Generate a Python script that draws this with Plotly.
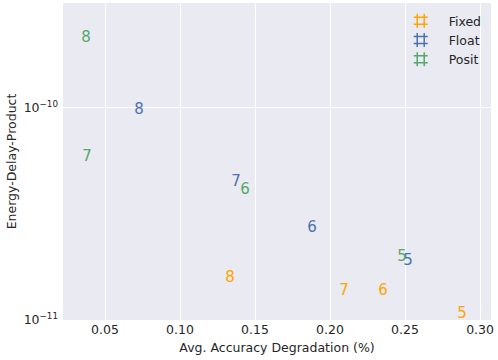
import plotly.graph_objects as go

# bit widths used as the point labels
fixed_bits = ["8", "7", "6", "5"]
fixed_acc = [0.1333, 0.2093, 0.2353, 0.288]
fixed_edp = [1.58e-11, 1.37e-11, 1.36e-11, 1.07e-11]

float_bits = ["8", "7", "6", "5"]
float_acc = [0.0727, 0.1373, 0.188, 0.252]
float_edp = [9.8e-11, 4.47e-11, 2.72e-11, 1.9e-11]

posit_bits = ["8", "7", "6", "5"]
posit_acc = [0.0373, 0.038, 0.1433, 0.248]
posit_edp = [2.14e-10, 5.87e-11, 4.1e-11, 1.98e-11]

series = [
    ("Fixed", fixed_bits, fixed_acc, fixed_edp, "#FFA500"),
    ("Float", float_bits, float_acc, float_edp, "#4C72B0"),
    ("Posit", posit_bits, posit_acc, posit_edp, "#55A868"),
]

font_family = "DejaVu Sans"
fig = go.Figure()

for name, bits, acc, edp, color in series:
    # the numbers themselves are the markers
    fig.add_trace(go.Scatter(
        x=acc, y=edp, text=bits, mode="text",
        textposition="middle center",
        textfont=dict(color=color, size=15, family=font_family),
        showlegend=False, hoverinfo="x+y+name", name=name,
    ))
    # legend entry with a '#' glyph
    fig.add_trace(go.Scatter(
        x=[None], y=[None], mode="markers", name="  " + name,
        marker=dict(symbol="hash-open", size=14, color=color,
                    line=dict(color=color, width=1.5)),
    ))

fig.update_layout(
    width=498, height=360,
    margin=dict(l=63, r=7, t=3, b=40, autoexpand=False),
    paper_bgcolor="white",
    plot_bgcolor="#EAEAF2",
    font=dict(family=font_family, size=12, color="#262626"),
    legend=dict(x=0.99, y=0.99, xanchor="right", yanchor="top",
                bgcolor="rgba(0,0,0,0)", font=dict(size=12.5),
                itemwidth=30, tracegroupgap=0),
    xaxis=dict(
        title=dict(text="Avg. Accuracy Degradation (%)", standoff=7,
                   font=dict(size=12.5)),
        range=[0.022, 0.3073],
        tickvals=[0.05, 0.10, 0.15, 0.20, 0.25, 0.30],
        ticktext=["0.05", "0.10", "0.15", "0.20", "0.25", "0.30"],
        gridcolor="white", gridwidth=1.2, zeroline=False,
        showline=False, ticks="", tickfont=dict(size=12.5),
        automargin=False,
    ),
    yaxis=dict(
        title=dict(text="Energy-Delay-Product", standoff=4,
                   font=dict(size=12.5)),
        type="log",
        range=[-11, -9.505],
        tickvals=[1e-11, 1e-10],
        ticktext=["10<sup>\u221211</sup>", "10<sup>\u221210</sup>"],
        gridcolor="white", gridwidth=1.2, zeroline=False,
        showline=False, ticks="", tickfont=dict(size=12.5),
        ticklabelstandoff=4,
        automargin=False,
    ),
)

# the page's default body margin would shift the figure off the window
fig.write_html("out.html", config={"displayModeBar": False},
               post_script="document.body.style.margin='0';")
